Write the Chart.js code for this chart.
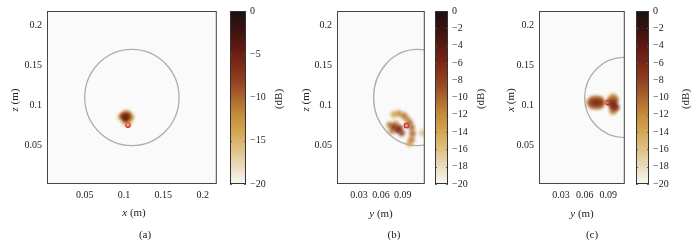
<!DOCTYPE html>
<html lang="en">
<head>
<meta charset="UTF-8" />
<title>Source maps</title>
<style>
  body { margin: 0; background: #fff; font-family: 'Liberation Serif', 'DejaVu Serif', serif; }
  #fig { position: relative; width: 696px; height: 245px; overflow: hidden; }
  canvas { position: absolute; top: 0; }
  .lbl { position: absolute; font-size: 11px; color: #222; white-space: nowrap; transform: translate(-50%, -50%); }
  .rot { transform: translate(-50%, -50%) rotate(-90deg); }
</style>
<script src="https://cdn.jsdelivr.net/npm/chart.js"></script>
</head>
<body>
<div id="fig">
  <canvas id="mapA" width="222" height="245" style="left:0px"></canvas>
  <canvas id="barA" width="70" height="245" style="left:226px"></canvas>
  <canvas id="mapB" width="140" height="245" style="left:290px"></canvas>
  <canvas id="barB" width="60" height="245" style="left:431px"></canvas>
  <canvas id="mapC" width="140" height="245" style="left:490px"></canvas>
  <canvas id="barC" width="64" height="245" style="left:632px"></canvas>

  <div class="lbl rot" style="left:14px;top:100px"><i>z</i> (m)</div>
  <div class="lbl" style="left:134px;top:212px"><i>x</i> (m)</div>
  <div class="lbl rot" style="left:278px;top:99px">(dB)</div>
  <div class="lbl" style="left:145px;top:234px">(a)</div>

  <div class="lbl rot" style="left:305px;top:100px"><i>z</i> (m)</div>
  <div class="lbl" style="left:381px;top:213px"><i>y</i> (m)</div>
  <div class="lbl rot" style="left:480px;top:99px">(dB)</div>
  <div class="lbl" style="left:394px;top:234px">(b)</div>

  <div class="lbl rot" style="left:510px;top:100px"><i>x</i> (m)</div>
  <div class="lbl" style="left:582px;top:213px"><i>y</i> (m)</div>
  <div class="lbl rot" style="left:685px;top:99px">(dB)</div>
  <div class="lbl" style="left:592px;top:234px">(c)</div>
</div>

<script>
  // colour scale
  const cbStops = [-20, -18, -16, -14, -12, -10, -8, -6, -4, -2, 0];
  const cbColors = ['#f8f7f3', '#eadbbf', '#dfc084', '#d5a652', '#c58c3b', '#ab662c',
                    '#913f20', '#7a2717', '#5c1912', '#38130f', '#1a1111'];

  // tick labels
  const xTicksA = [0.05, 0.1, 0.15, 0.2];
  const xTicksBC = [0.03, 0.06, 0.09];
  const zTicks = [0.05, 0.1, 0.15, 0.2];

  // (a) x-z plane
  const aX  = [0.0956, 0.1094, 0.1019, 0.1056, 0.1000, 0.1060, 0.0980, 0.1075, 0.1030, 0.0995, 0.1045, 0.1005, 0.1035, 0.1020];
  const aZ  = [0.0856, 0.0856, 0.0906, 0.0900, 0.0790, 0.0790, 0.0860, 0.0850, 0.0815, 0.0880, 0.0880, 0.0855, 0.0860, 0.0840];
  const aDb = [-15, -15, -14, -14, -15, -14, -11, -11, -11, -9, -9, -6, -6, -5];

  // (b) y-z plane
  const bX  = [0.1168, 0.0776, 0.0992, 0.0843, 0.0951, 0.0721, 0.0749, 0.0803, 0.0911, 0.1019, 0.0992, 0.1019, 0.1032, 0.0884, 0.0857, 0.0776, 0.0830];
  const bZ  = [0.0657, 0.0888, 0.0525, 0.0900, 0.0838, 0.0757, 0.0682, 0.0769, 0.0875, 0.0575, 0.0788, 0.0725, 0.0650, 0.0657, 0.0719, 0.0732, 0.0694];
  const bDb = [-16, -14, -14, -12, -12, -11, -12, -12, -11, -11, -10, -10, -10, -8, -8, -7, -6];

  // (c) y-x plane
  const cX  = [0.0657, 0.0834, 0.0961, 0.0961, 0.0695, 0.0746, 0.0796, 0.0695, 0.0746, 0.0796, 0.0930, 0.0990, 0.0961, 0.0940, 0.1000, 0.0695, 0.0796, 0.0961, 0.0746, 0.0975];
  const cZ  = [0.1037, 0.1037, 0.1111, 0.0924, 0.1074, 0.1082, 0.1074, 0.0999, 0.0992, 0.0999, 0.1074, 0.1074, 0.0960, 0.1010, 0.0974, 0.1037, 0.1037, 0.1040, 0.1037, 0.1000];
  const cDb = [-13, -13, -13, -13, -10, -10, -10, -10, -10, -10, -10, -10, -10, -8, -8, -8, -7, -7, -6, -6];

  // true source positions (a, b, c)
  const srcX = [0.105, 0.0951, 0.0898];
  const srcZ = [0.0757, 0.0751, 0.1037];

  // outline of the object (a, b, c)
  const rimX = [0.11, 0.11, 0.11];
  const rimZ = [0.11, 0.11, 0.11];
  const rimR = [0.06, 0.06, 0.05];

  const serif = "'Liberation Serif', 'DejaVu Serif', serif";

  function hex(c) {
    return [1, 3, 5].map(i => parseInt(c.substr(i, 2), 16));
  }

  function dbColor(v) {
    for (let i = 1; i < cbStops.length; i++) {
      if (v <= cbStops[i]) {
        const t = (v - cbStops[i - 1]) / (cbStops[i] - cbStops[i - 1]);
        const a = hex(cbColors[i - 1]), b = hex(cbColors[i]);
        const m = a.map((x, k) => Math.round(x + (b[k] - x) * t));
        return 'rgba(' + m.join(',') + ',0.9)';
      }
    }
    return cbColors[cbColors.length - 1];
  }

  function fmtDb(v) {
    return v < 0 ? '\u2212' + Math.abs(v) : String(v);
  }

  const mapPlugin = {
    id: 'rim',
    beforeDraw(chart) {
      const {ctx, chartArea: a} = chart;
      ctx.save();
      ctx.fillStyle = '#fafafa';
      ctx.fillRect(a.left, a.top, a.right - a.left, a.bottom - a.top);
      ctx.restore();
    },
    beforeDatasetsDraw(chart, args, opts) {
      const {ctx, chartArea: a, scales: {x, y}} = chart;
      const px = x.getPixelForValue(opts.cx);
      const py = y.getPixelForValue(opts.cz);
      const rx = x.getPixelForValue(opts.cx + opts.r) - px;
      const ry = py - y.getPixelForValue(opts.cz + opts.r);
      ctx.save();
      ctx.beginPath();
      ctx.rect(a.left, a.top, a.right - a.left, a.bottom - a.top);
      ctx.clip();
      ctx.beginPath();
      ctx.ellipse(px, py, rx, ry, 0, 0, Math.PI * 2);
      ctx.strokeStyle = '#adadad';
      ctx.lineWidth = 1.3;
      ctx.stroke();
      ctx.restore();
    },
    beforeDatasetDraw(chart, args) {
      if (args.index === 0) {
        chart.ctx.save();
        chart.ctx.filter = 'blur(1.5px)';
      }
    },
    afterDatasetDraw(chart, args) {
      if (args.index === 0) chart.ctx.restore();
    },
    afterDraw(chart) {
      const {ctx, chartArea: a} = chart;
      ctx.save();
      ctx.strokeStyle = '#444';
      ctx.lineWidth = 1;
      ctx.strokeRect(a.left + 0.5, a.top + 0.5, a.right - a.left - 1, a.bottom - a.top - 1);
      ctx.restore();
    }
  };

  function mapChart(id, xs, zs, dbs, k, xMin, xMax, xTicks, yAxisW, padRight, rad) {
    return new Chart(document.getElementById(id), {
      type: 'scatter',
      data: {
        datasets: [{
          data: xs.map((v, i) => ({x: v, y: zs[i]})),
          pointRadius: rad,
          pointBorderWidth: 0,
          backgroundColor: c => dbColor(dbs[c.dataIndex])
        }, {
          data: [{x: srcX[k], y: srcZ[k]}],
          pointRadius: 2.4,
          pointBorderWidth: 1.2,
          borderColor: '#e0201c',
          backgroundColor: 'rgba(255,130,130,0.85)'
        }]
      },
      options: {
        responsive: false,
        animation: false,
        devicePixelRatio: 1,
        layout: { padding: { left: 0, top: 11, right: padRight, bottom: 0 } },
        plugins: {
          legend: { display: false },
          tooltip: { enabled: false },
          rim: { cx: rimX[k], cz: rimZ[k], r: rimR[k] }
        },
        scales: {
          x: {
            min: xMin, max: xMax,
            afterBuildTicks: s => { s.ticks = xTicks.map(v => ({value: v})); },
            afterFit: s => { s.height = 61; },
            grid: { display: false, drawTicks: false },
            border: { display: false },
            ticks: { padding: 5, color: '#222', font: { family: serif, size: 10 }, callback: v => String(+v.toFixed(3)) }
          },
          y: {
            min: 0.002, max: 0.218,
            afterBuildTicks: s => { s.ticks = zTicks.map(v => ({value: v})); },
            afterFit: s => { s.width = yAxisW; },
            grid: { display: false, drawTicks: false },
            border: { display: false },
            ticks: { padding: 5, color: '#222', font: { family: serif, size: 10 }, callback: v => String(+v.toFixed(3)) }
          }
        }
      },
      plugins: [mapPlugin]
    });
  }

  const barPlugin = {
    id: 'bar',
    beforeDraw(chart) {
      const {ctx, chartArea: a, scales: {y}} = chart;
      const g = ctx.createLinearGradient(0, y.getPixelForValue(-20), 0, y.getPixelForValue(0));
      cbStops.forEach((v, i) => g.addColorStop((v + 20) / 20, cbColors[i]));
      ctx.save();
      ctx.fillStyle = g;
      ctx.fillRect(a.left, a.top, a.right - a.left, a.bottom - a.top);
      ctx.strokeStyle = '#666';
      ctx.lineWidth = 1;
      y.ticks.forEach(t => {
        const py = Math.round(y.getPixelForValue(t.value)) + 0.5;
        ctx.beginPath();
        ctx.moveTo(a.left, py); ctx.lineTo(a.left + 2, py);
        ctx.moveTo(a.right, py); ctx.lineTo(a.right - 2, py);
        ctx.stroke();
      });
      ctx.strokeStyle = '#333';
      ctx.strokeRect(a.left + 0.5, a.top + 0.5, a.right - a.left - 1, a.bottom - a.top - 1);
      ctx.restore();
    }
  };

  function colorBar(id, step, padLeft, axisW) {
    return new Chart(document.getElementById(id), {
      type: 'scatter',
      data: { datasets: [] },
      options: {
        responsive: false,
        animation: false,
        devicePixelRatio: 1,
        layout: { padding: { left: padLeft, top: 11, right: 0, bottom: 61 } },
        plugins: { legend: { display: false }, tooltip: { enabled: false } },
        scales: {
          x: { display: false, min: 0, max: 1 },
          y: {
            position: 'right', min: -20, max: 0,
            afterFit: s => { s.width = axisW; },
            grid: { display: false, drawTicks: false },
            border: { display: false },
            ticks: { stepSize: step, padding: 4, color: '#222', font: { family: serif, size: 10 }, callback: v => fmtDb(v) }
          }
        }
      },
      plugins: [barPlugin]
    });
  }

  mapChart('mapA', aX, aZ, aDb, 0, 0.002, 0.218, xTicksA, 47, 2, 3);
  mapChart('mapB', bX, bZ, bDb, 1, 0, 0.12, xTicksBC, 47, 4, 3.2);
  mapChart('mapC', cX, cZ, cDb, 2, 0.002, 0.111, xTicksBC, 49, 4, 3.4);

  colorBar('barA', 5, 4, 50);
  colorBar('barB', 2, 4, 43);
  colorBar('barC', 2, 4, 47);
</script>
</body>
</html>
